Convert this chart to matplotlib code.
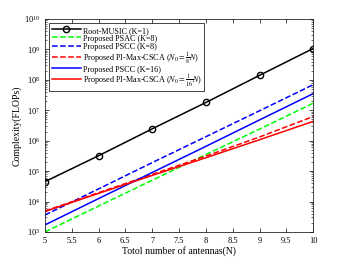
import numpy as np
import matplotlib
matplotlib.use('Agg')
import matplotlib.pyplot as plt

plt.rcParams['font.family'] = ['Liberation Serif', 'DejaVu Serif']
plt.rcParams['mathtext.fontset'] = 'stix'

# number of antennas
N = [5, 6, 7, 8, 9, 10]

# complexity values (FLOPs)
root_music = [4.5e4, 3.2e5, 2.45e6, 1.8e7, 1.4e8, 1.07e9]
psac_k8 = [1.0e3, 7.1e3, 5.0e4, 3.5e5, 2.4e6, 1.7e7]
pscc_k8 = [3.6e3, 2.6e4, 1.9e5, 1.35e6, 9.6e6, 6.9e7]
pi_csca_8 = [4.9e3, 1.95e4, 7.8e4, 3.1e5, 1.32e6, 6.2e6]
pscc_k16 = [1.7e3, 1.25e4, 9.0e4, 6.5e5, 4.8e6, 3.5e7]
pi_csca_16 = [4.7e3, 1.85e4, 7.2e4, 2.75e5, 1.07e6, 4.3e6]

fig = plt.figure(figsize=(3.46, 2.6), dpi=100)
ax = fig.add_axes([0.130, 0.108, 0.775, 0.819])

lw = 1.1
ax.semilogy(N, root_music, 'k-o', lw=lw, ms=4.5, mfc='none', mew=1.0,
            label='Root-MUSIC (K=1)')
ax.semilogy(N, psac_k8, '--', color='#00ff00', lw=lw, label='Proposed PSAC (K=8)')
ax.semilogy(N, pscc_k8, '--', color='#0000ff', lw=lw, label='Proposed PSCC (K=8)')
ax.semilogy(N, pi_csca_8, '--', color='#ff0000', lw=lw,
            label=r'Proposed PI-Max-CSCA ($N_0=\frac{1}{8}N$)')
ax.semilogy(N, pscc_k16, '-', color='#0000ff', lw=lw, label='Proposed PSCC (K=16)')
ax.semilogy(N, pi_csca_16, '-', color='#ff0000', lw=lw,
            label=r'Proposed PI-Max-CSCA ($N_0=\frac{1}{16}N$)')

ax.set_xlim(5, 10)
ax.set_ylim(1e3, 1e10)
ax.set_xticks(np.arange(5, 10.01, 0.5))
ax.set_xticklabels(['5', '5.5', '6', '6.5', '7', '7.5', '8', '8.5', '9', '9.5', '10'])
ax.set_yticks([10.0 ** k for k in range(3, 11)])
ax.tick_params(which='both', direction='in', top=True, right=True, labelsize=6)
ax.tick_params(which='major', length=3, width=0.5)
ax.tick_params(which='minor', length=1.5, width=0.4)
for s in ax.spines.values():
    s.set_linewidth(0.6)
    s.set_color('#262626')

ax.set_xlabel('Totol number of antennas(N)', fontsize=7, labelpad=1)
ax.set_ylabel('Complexity(FLOPs)', fontsize=7, labelpad=2)

# equal row heights: make every handle about as tall as the fraction rows
leg = ax.legend(loc='upper left', fontsize=5.9, handlelength=3.6, handleheight=1.4,
                borderpad=0.25, labelspacing=-0.15, handletextpad=0.3,
                borderaxespad=0.55, fancybox=False, framealpha=1)
leg.get_frame().set_edgecolor('#262626')
leg.get_frame().set_linewidth(0.6)

fig.savefig('out.png', dpi=100)
